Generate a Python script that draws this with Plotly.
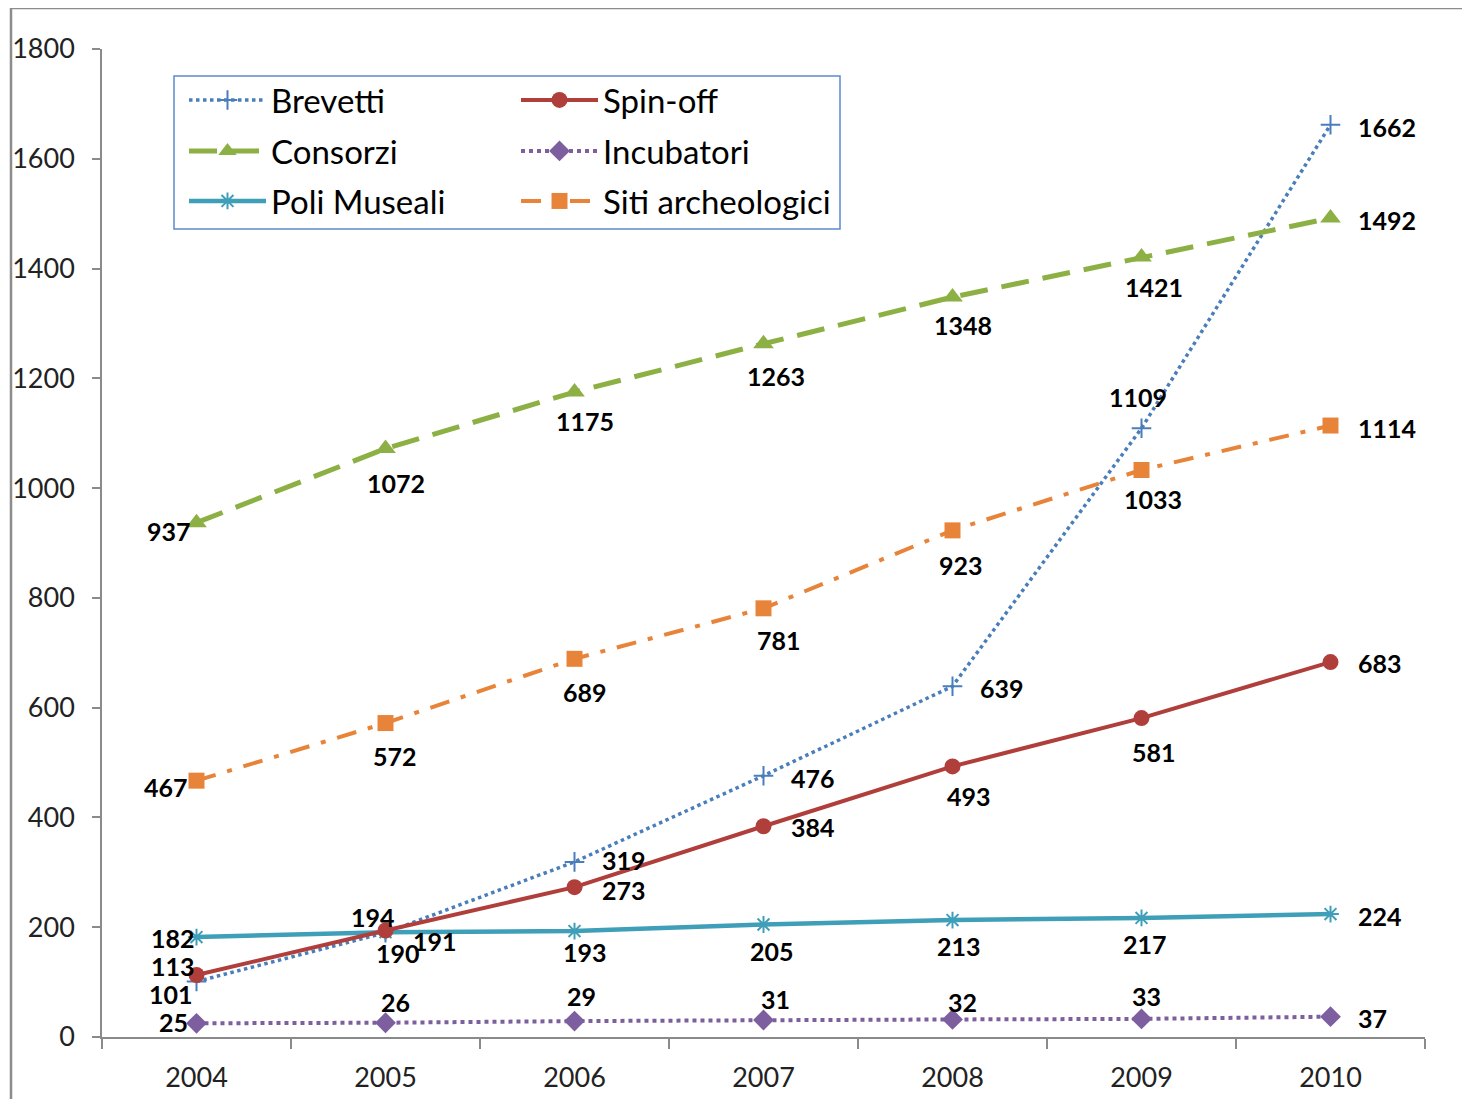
import plotly.graph_objects as go

years = ['2004', '2005', '2006', '2007', '2008', '2009', '2010']
brevetti = [101, 190, 319, 476, 639, 1109, 1662]
spinoff = [113, 194, 273, 384, 493, 581, 683]
consorzi = [937, 1072, 1175, 1263, 1348, 1421, 1492]
incubatori = [25, 26, 29, 31, 32, 33, 37]
poli = [182, 191, 193, 205, 213, 217, 224]
siti = [467, 572, 689, 781, 923, 1033, 1114]

# label placement (anchor, dx px, dy px down) per point
lab_brevetti = [('right', -2, 12), ('center', 12, 20), ('left', 25, -2), ('left', 25, 2),
                ('left', 25, 2), ('center', -4, -31), ('left', 25, 2)]
lab_spinoff = [('right', 0, -9), ('center', -13, -14), ('left', 25, 3), ('left', 25, 1),
               ('center', 16, 30), ('center', 12, 34), ('left', 25, 1)]
lab_consorzi = [('right', -4, 8), ('center', 10, 34), ('center', 10, 29), ('center', 12, 32),
                ('center', 10, 28), ('center', 12, 30), ('left', 25, 2)]
lab_incubatori = [('right', -7, -1), ('center', 10, -21), ('center', 7, -25), ('center', 12, -21),
                  ('center', 10, -17), ('center', 5, -23), ('left', 25, 1)]
lab_poli = [('right', 0, 1), ('left', 25, 9), ('center', 10, 21), ('center', 8, 27),
            ('center', 6, 26), ('center', 3, 26), ('left', 25, 2)]
lab_siti = [('right', -7, 6), ('center', 9, 33), ('center', 10, 33), ('center', 15, 32),
            ('center', 8, 35), ('center', 11, 29), ('left', 25, 2)]

FONT = 'Lato'

# page offset of the figure (body margin) taken into account
OFF = 8
W, H = 1462, 1091
L, T = 102 - OFF, 49 - OFF
R = W - (1425 - OFF)
B = H - (1037 - OFF)
pw, ph = W - L - R, H - T - B

def px(xp):
    return (xp - OFF - L) / pw

def py(yp):
    return (H - B - (yp - OFF)) / ph

series = [
    dict(name='Brevetti', y=brevetti, lab=lab_brevetti, color='#4a7ebb', dash='dot', width=3.5,
         symbol='cross-thin-open', msize=14, legend='legend', lx=184, ly=72),
    dict(name='Consorzi', y=consorzi, lab=lab_consorzi, color='#8db045', dash='28px,14px', width=5,
         symbol='triangle-up', msize=18, legend='legend2', lx=184, ly=123),
    dict(name='Poli Museali', y=poli, lab=lab_poli, color='#3f9fb8', dash='solid', width=4.5,
         symbol='asterisk-open', msize=14, legend='legend3', lx=184, ly=173),
    dict(name='Spin-off', y=spinoff, lab=lab_spinoff, color='#b03f3c', dash='solid', width=4,
         symbol='circle', msize=16, legend='legend4', lx=516, ly=72),
    dict(name='Incubatori', y=incubatori, lab=lab_incubatori, color='#7d5fa0', dash='dot', width=4,
         symbol='diamond', msize=16, legend='legend5', lx=516, ly=123),
    dict(name='Siti archeologici', y=siti, lab=lab_siti, color='#e8843a', dash='20px,12px,5px,12px', width=4,
         symbol='square', msize=16, legend='legend6', lx=516, ly=173),
]

fig = go.Figure()
annotations = []
legends = {}
legend_common = dict(font=dict(family=FONT, size=33, color='#000000'), bgcolor='rgba(0,0,0,0)',
                     borderwidth=0, orientation='v', itemwidth=77, xanchor='left', yanchor='top')
for s in series:
    open_sym = s['symbol'].endswith('open')
    fig.add_trace(go.Scatter(
        x=years, y=s['y'], name=s['name'], mode='lines+markers',
        line=dict(color=s['color'], width=s['width'], dash=s['dash']),
        marker=dict(symbol=s['symbol'], size=s['msize'], color=s['color'],
                    line=dict(color=s['color'], width=2 if open_sym else 0)),
        legend=s['legend'], showlegend=True, cliponaxis=False,
    ))
    legends[s['legend']] = dict(x=px(s['lx']), y=py(s['ly']), **legend_common)
    for idx, (yv, (anc, dx, dy)) in enumerate(zip(s['y'], s['lab'])):
        annotations.append(dict(
            x=idx, y=yv, xref='x', yref='y', text='<b>%d</b>' % yv, showarrow=False,
            xanchor=anc, yanchor='middle', xshift=dx, yshift=-dy,
            font=dict(family=FONT, size=25, color='#000000'),
        ))

shapes = [
    dict(type='rect', xref='paper', yref='paper', x0=px(11), x1=px(1520), y0=py(1130), y1=py(8),
         line=dict(color='#8c8c8c', width=2.5), fillcolor='rgba(0,0,0,0)', layer='below'),
    dict(type='rect', xref='paper', yref='paper', x0=px(174), x1=px(840), y0=py(229), y1=py(76),
         line=dict(color='#5b8bd0', width=1.5), fillcolor='rgba(0,0,0,0)'),
]

fig.update_layout(
    width=W, height=H, margin=dict(l=L, r=R, t=T, b=B, pad=0, autoexpand=False),
    plot_bgcolor='white', paper_bgcolor='white', showlegend=True,
    font=dict(family=FONT, size=25, color='#222222'),
    annotations=annotations, shapes=shapes,
    xaxis=dict(type='category', range=[-0.5, 6.5], showline=True, linecolor='#8a8a8a', linewidth=1.5,
               ticks='outside', tickson='boundaries', ticklen=10, tickcolor='#8a8a8a', tickwidth=1.5,
               showgrid=False, zeroline=False, tickfont=dict(family=FONT, size=27, color='#222222'),
               ticklabelstandoff=16, automargin=False),
    yaxis=dict(range=[0, 1800], dtick=200, showline=True, linecolor='#8a8a8a', linewidth=1.5,
               ticks='outside', ticklen=8, tickcolor='#8a8a8a', tickwidth=1.5, showgrid=False,
               zeroline=False, tickfont=dict(family=FONT, size=27, color='#222222'),
               ticklabelstandoff=12, automargin=False),
    **legends,
)

fig.write_html('out.html')
